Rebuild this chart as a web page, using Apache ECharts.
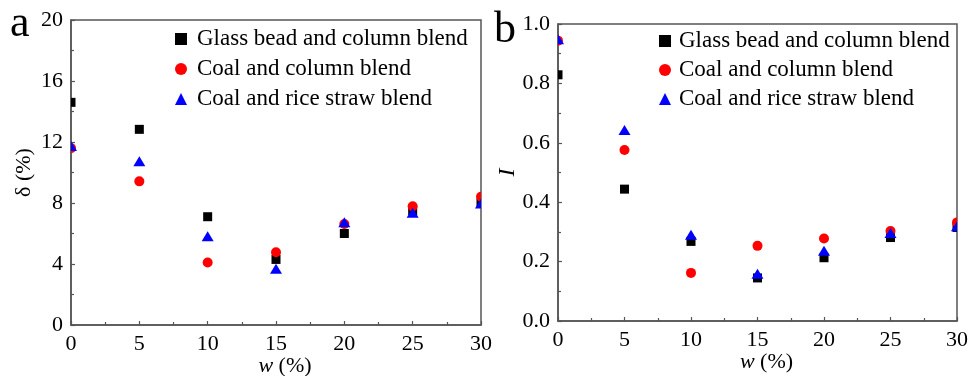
<!DOCTYPE html>
<html>
<head>
<meta charset="utf-8">
<script src="https://cdn.jsdelivr.net/npm/echarts@6/dist/echarts.min.js"></script>
<style>html,body{margin:0;padding:0;background:#fff}#c{width:972px;height:376px}</style>
</head>
<body>
<div id="c"></div>
<script>
var wValues = [0, 5, 10, 15, 20, 25, 30];
var seriesNames = ['Glass bead and column blend', 'Coal and column blend', 'Coal and rice straw blend'];
// Panel a: delta (%)
var deltaGlass = [14.6, 12.83, 7.1, 4.3, 6.0, 7.5, 8.0];
var deltaCoalColumn = [11.6, 9.42, 4.1, 4.77, 6.62, 7.78, 8.41];
var deltaCoalStraw = [11.7, 10.7, 5.79, 3.65, 6.71, 7.32, 7.93];
// Panel b: I
var iGlass = [0.829, 0.444, 0.268, 0.145, 0.213, 0.281, 0.315];
var iCoalColumn = [0.944, 0.576, 0.162, 0.253, 0.278, 0.303, 0.332];
var iCoalStraw = [0.947, 0.641, 0.289, 0.157, 0.235, 0.295, 0.317];
var yTicksA = [0, 4, 8, 12, 16, 20];
var yTicksB = ['0.0', '0.2', '0.4', '0.6', '0.8', '1.0'];

var FONT = 'Liberation Serif';
var AX = '#555';
var colors = ['#000000', '#ff0000', '#0000ff'];
var symbols = ['rect', 'circle', 'triangle'];

function pairs(arr) { return wValues.map(function (w, i) { return [w, arr[i]]; }); }

function makeRender(kind, color) {
  return function (params, api) {
    var p = api.coord([api.value(0), api.value(1)]);
    var x = p[0], y = p[1];
    var style = { fill: color };
    if (kind === 'rect') {
      return { type: 'rect', shape: { x: x - 4.5, y: y - 4.5, width: 9, height: 9 }, style: style };
    } else if (kind === 'circle') {
      return { type: 'circle', shape: { cx: x, cy: y, r: 5 }, style: style };
    }
    return { type: 'polygon', shape: { points: [[x, y - 5.5], [x + 6, y + 4.5], [x - 6, y + 4.5]] }, style: style };
  };
}

function xAxis(gi) {
  return {
    gridIndex: gi, type: 'value', min: 0, max: 30, interval: 5,
    name: '{i|w} (%)', nameLocation: 'middle', nameGap: 30, nameMoveOverlap: false,
    nameTextStyle: { fontFamily: FONT, fontSize: 22, fontStyle: 'normal', color: '#000', padding: [0, 0, 0, 18],
      rich: { i: { fontFamily: FONT, fontSize: 22, fontStyle: 'italic', color: '#000' } } },
    axisLine: { lineStyle: { color: AX, width: 1.5 } },
    axisTick: { inside: true, length: 4, lineStyle: { color: AX, width: 1.2 } },
    minorTick: { show: true, splitNumber: 2, length: 3, lineStyle: { color: AX, width: 1.2 } },
    axisLabel: { fontFamily: FONT, fontSize: 22, color: '#000', margin: 8 },
    splitLine: { show: false }
  };
}

var option = {
  animation: false,
  backgroundColor: '#fff',
  textStyle: { fontFamily: FONT },
  grid: [
    { left: 71, top: 20, right: 491, bottom: 51, show: true, borderColor: AX, borderWidth: 1.5, containLabel: false, outerBoundsMode: 'none' },
    { left: 558, top: 24, right: 15, bottom: 55, show: true, borderColor: AX, borderWidth: 1.5, containLabel: false, outerBoundsMode: 'none' }
  ],
  xAxis: [xAxis(0), xAxis(1)],
  yAxis: [
    {
      gridIndex: 0, type: 'value', min: 0, max: 20, interval: 4,
      name: 'δ (%)', nameLocation: 'middle', nameGap: 36, nameRotate: 90, nameMoveOverlap: false,
      nameTextStyle: { fontFamily: FONT, fontSize: 22, fontStyle: 'normal', color: '#000' },
      axisLine: { show: true, lineStyle: { color: AX, width: 1.5 } },
      axisTick: { show: true, inside: true, length: 4, lineStyle: { color: AX, width: 1.2 } },
      minorTick: { show: true, splitNumber: 2, length: 3, lineStyle: { color: AX, width: 1.2 } },
      axisLabel: { fontFamily: FONT, fontSize: 22, color: '#000', margin: 8,
        formatter: function (v) { var k = yTicksA.indexOf(v); return k >= 0 ? String(yTicksA[k]) : ''; } },
      splitLine: { show: false }
    },
    {
      gridIndex: 1, type: 'value', min: 0, max: 1, interval: 0.2,
      name: 'I', nameLocation: 'middle', nameGap: 38, nameRotate: 90, nameMoveOverlap: false,
      nameTextStyle: { fontFamily: FONT, fontSize: 24, fontStyle: 'italic', color: '#000' },
      axisLine: { show: true, lineStyle: { color: AX, width: 1.5 } },
      axisTick: { show: true, inside: true, length: 4, lineStyle: { color: AX, width: 1.2 } },
      minorTick: { show: true, splitNumber: 2, length: 3, lineStyle: { color: AX, width: 1.2 } },
      axisLabel: { fontFamily: FONT, fontSize: 22, color: '#000', margin: 8,
        formatter: function (v) { return yTicksB[Math.round(v * 5)]; } },
      splitLine: { show: false }
    }
  ],
  legend: [
    {
      left: 170, top: 22, orient: 'vertical', itemWidth: 12, itemHeight: 12, itemGap: 6,
      textStyle: { fontFamily: FONT, fontSize: 23, color: '#000', lineHeight: 24, padding: [0, 0, 0, 5] },
      data: seriesNames.map(function (n, i) { return { name: n, icon: symbols[i], itemStyle: { color: colors[i] } }; })
    },
    {
      left: 654, top: 24, orient: 'vertical', itemWidth: 12, itemHeight: 12, itemGap: 5,
      textStyle: { fontFamily: FONT, fontSize: 23, color: '#000', lineHeight: 24, padding: [0, 0, 0, 3] },
      data: seriesNames.map(function (n, i) { return { name: n, icon: symbols[i], itemStyle: { color: colors[i] } }; })
    }
  ],
  graphic: [
    { type: 'text', left: 10, top: 2, style: { text: 'a', fontFamily: FONT, fontSize: 44, fill: '#000' } },
    { type: 'text', left: 494, top: 8, style: { text: 'b', fontFamily: FONT, fontSize: 44, fill: '#000' } }
  ],
  series: []
};

var dataA = [deltaGlass, deltaCoalColumn, deltaCoalStraw];
var dataB = [iGlass, iCoalColumn, iCoalStraw];
[dataA, dataB].forEach(function (set, gi) {
  set.forEach(function (arr, i) {
    option.series.push({
      type: 'custom', name: seriesNames[i], xAxisIndex: gi, yAxisIndex: gi,
      clip: true, itemStyle: { color: colors[i] },
      encode: { x: 0, y: 1 },
      renderItem: makeRender(symbols[i], colors[i]),
      data: pairs(arr)
    });
  });
});

var chart = echarts.init(document.getElementById('c'));
chart.setOption(option);
</script>
</body>
</html>
